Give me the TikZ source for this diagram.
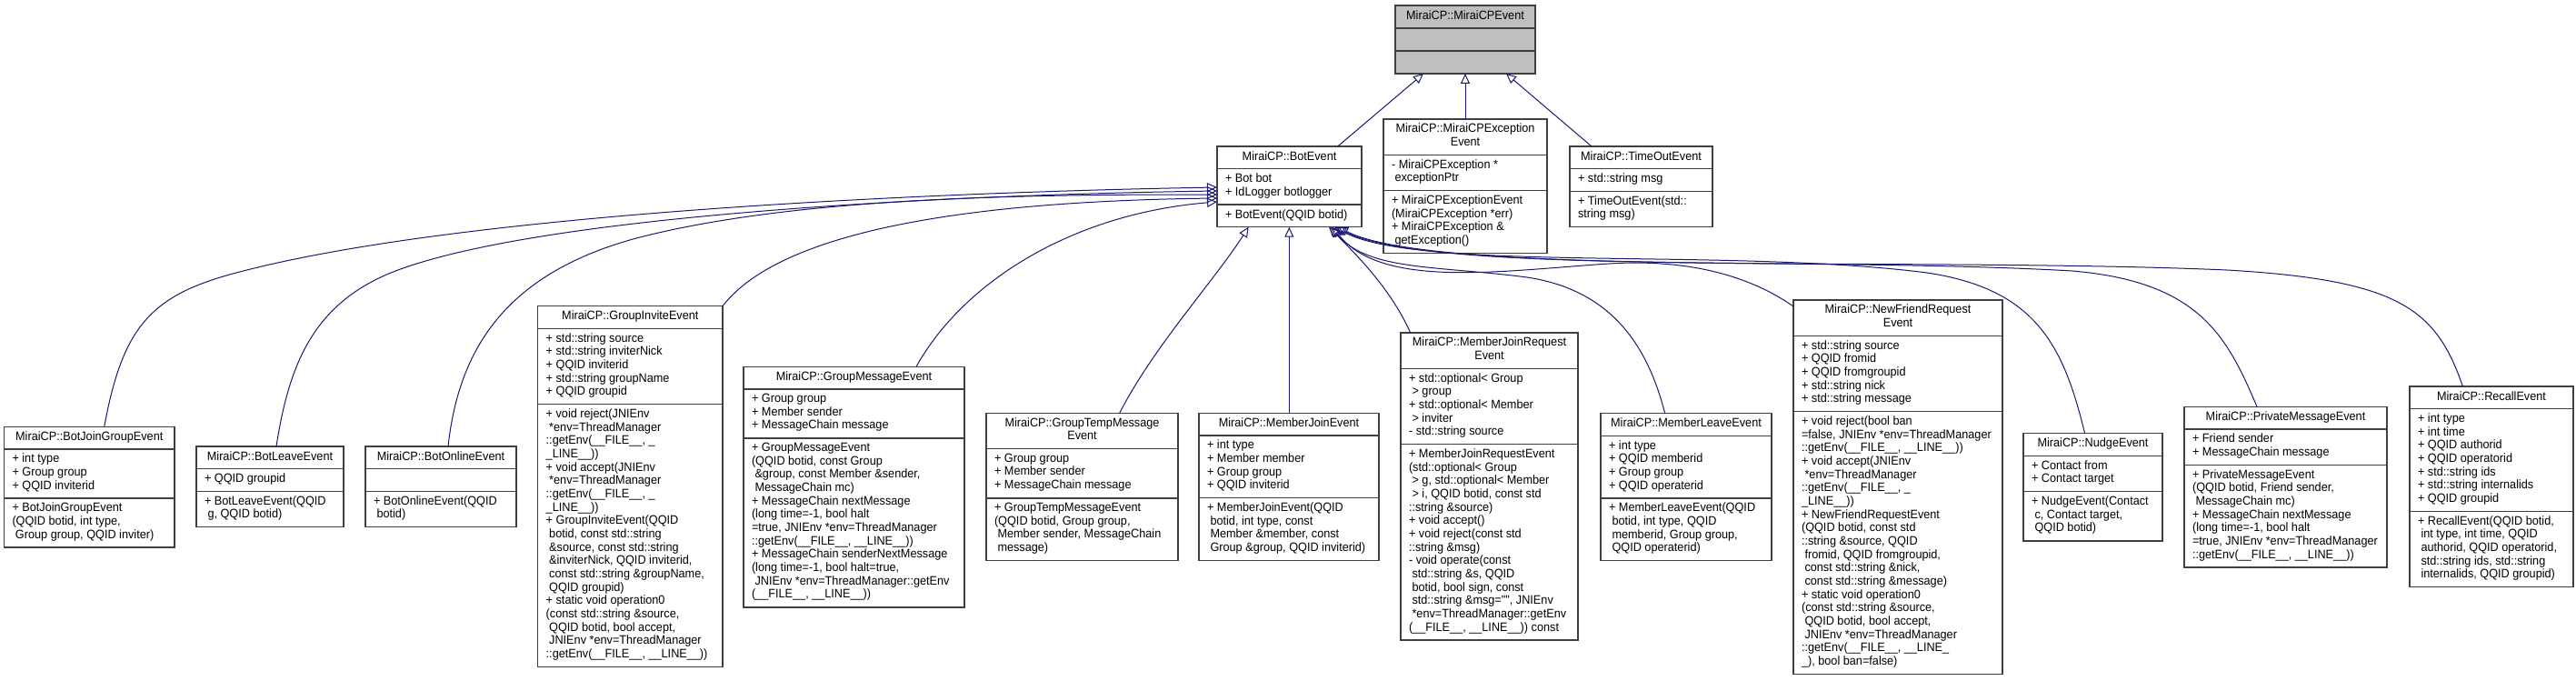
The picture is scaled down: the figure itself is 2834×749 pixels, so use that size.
\documentclass[tikz,border=0pt]{standalone}
\usepackage{fontspec}
\newfontfamily\dxfont{Liberation Sans}[FakeStretch=0.94]
\usetikzlibrary{arrows.meta}
\definecolor{edgec}{HTML}{191970}
\definecolor{bordc}{HTML}{404040}
\definecolor{rootfill}{HTML}{BFBFBF}
\newcommand\LS{\hbox to 3.5pt{}}
\newcommand\klass[8]{%
  \node[boxn, fill=#8, anchor=north west, minimum width={(#3)-(#2)}, minimum height={(#7)-(#4)}] (#1) at (#2,#4) {};
  \draw[sepl] (#2,#5) -- (#3,#5);
  \draw[sepl] (#2,#6) -- (#3,#6);}
\newcommand\ktitle[5]{\node[ttl] (#1-t) at ({(#2+#3)/2},{#4+5}) {#5};}
\newcommand\kattr[4]{\node[txt] (#1-a) at ({#2+9},{#3+5}) {#4};}
\newcommand\kmeth[4]{\node[txt] (#1-m) at ({#2+9},{#3+5}) {#4};}
\tikzset{
  boxn/.style={draw=bordc, line width=1.2pt, inner sep=0pt, outer sep=0pt, rectangle},
  sepl/.style={draw=bordc, line width=1.2pt},
  txt/.style={inner sep=0pt, outer sep=0pt, align=left, anchor=north west,
    font=\dxfont\fontsize{13.5}{14.67}\selectfont,
    execute at begin node=\strut, execute at end node=\strut},
  ttl/.style={txt, align=center, anchor=north},
  inh/.style={draw=edgec, line width=1pt, -{Triangle[open,length=11pt,width=10pt]}}
}
\begin{document}
\begin{tikzpicture}[x=1pt,y=-1pt]
\useasboundingbox (0,0) rectangle (2834,749);
\fill[white] (0,0) rectangle (2834,749);

% ---------- classes ----------
\klass{mce}{1535}{1689}{6}{31}{56}{81}{rootfill}
\ktitle{mce}{1535}{1689}{6}{MiraiCP::MiraiCPEvent}

\klass{bev}{1339}{1498}{161}{185.7}{225}{249.7}{white}
\ktitle{bev}{1339}{1498}{161}{MiraiCP::BotEvent}
\kattr{bev}{1339}{185.7}{+ Bot bot\\+ IdLogger botlogger}
\kmeth{bev}{1339}{225}{+ BotEvent(QQID botid)}

\klass{mcee}{1522}{1702}{131}{170.3}{209.7}{278.4}{white}
\ktitle{mcee}{1522}{1702}{131}{MiraiCP::MiraiCPException\\Event}
\kattr{mcee}{1522}{170.3}{- MiraiCPException *\\\LS exceptionPtr}
\kmeth{mcee}{1522}{209.7}{+ MiraiCPExceptionEvent\\(MiraiCPException *err)\\+ MiraiCPException \&\\\LS getException()}

\klass{toe}{1727}{1884}{161}{185.7}{210.3}{249.7}{white}
\ktitle{toe}{1727}{1884}{161}{MiraiCP::TimeOutEvent}
\kattr{toe}{1727}{185.7}{+ std::string msg}
\kmeth{toe}{1727}{210.3}{+ TimeOutEvent(std::\\string msg)}

\klass{bjg}{4.5}{192}{469.3}{494}{548}{602}{white}
\ktitle{bjg}{4.5}{192}{469.3}{MiraiCP::BotJoinGroupEvent}
\kattr{bjg}{4.5}{494}{+ int type\\+ Group group\\+ QQID inviterid}
\kmeth{bjg}{4.5}{548}{+ BotJoinGroupEvent\\(QQID botid, int type,\\\LS Group group, QQID inviter)}

\klass{ble}{216}{378}{491}{515.7}{540.3}{579.7}{white}
\ktitle{ble}{216}{378}{491}{MiraiCP::BotLeaveEvent}
\kattr{ble}{216}{515.7}{+ QQID groupid}
\kmeth{ble}{216}{540.3}{+ BotLeaveEvent(QQID\\\LS g, QQID botid)}

\klass{boe}{402}{568}{491}{515.7}{540.3}{579.7}{white}
\ktitle{boe}{402}{568}{491}{MiraiCP::BotOnlineEvent}
\kmeth{boe}{402}{540.3}{+ BotOnlineEvent(QQID\\\LS botid)}

\klass{gie}{591.7}{795}{336.7}{361.3}{444.7}{733.4}{white}
\ktitle{gie}{591.7}{795}{336.7}{MiraiCP::GroupInviteEvent}
\kattr{gie}{591.7}{361.3}{+ std::string source\\+ std::string inviterNick\\+ QQID inviterid\\+ std::string groupName\\+ QQID groupid}
\kmeth{gie}{591.7}{444.7}{+ void reject(JNIEnv\\\LS*env=ThreadManager\\::getEnv(\_\_FILE\_\_, \_\\\_LINE\_\_))\\+ void accept(JNIEnv\\\LS*env=ThreadManager\\::getEnv(\_\_FILE\_\_, \_\\\_LINE\_\_))\\+ GroupInviteEvent(QQID\\\LS botid, const std::string\\\LS\&source, const std::string\\\LS\&inviterNick, QQID inviterid,\\\LS const std::string \&groupName,\\\LS QQID groupid)\\+ static void operation0\\(const std::string \&source,\\\LS QQID botid, bool accept,\\\LS JNIEnv *env=ThreadManager\\::getEnv(\_\_FILE\_\_, \_\_LINE\_\_))}

\klass{gme}{818}{1061}{403.3}{428}{482}{668}{white}
\ktitle{gme}{818}{1061}{403.3}{MiraiCP::GroupMessageEvent}
\kattr{gme}{818}{428}{+ Group group\\+ Member sender\\+ MessageChain message}
\kmeth{gme}{818}{482}{+ GroupMessageEvent\\(QQID botid, const Group\\\LS\&group, const Member \&sender,\\\LS MessageChain mc)\\+ MessageChain nextMessage\\(long time=-1, bool halt\\=true, JNIEnv *env=ThreadManager\\::getEnv(\_\_FILE\_\_, \_\_LINE\_\_))\\+ MessageChain senderNextMessage\\(long time=-1, bool halt=true,\\\LS JNIEnv *env=ThreadManager::getEnv\\(\_\_FILE\_\_, \_\_LINE\_\_))}

\klass{gtme}{1085}{1296}{454.3}{493.7}{548}{616.7}{white}
\ktitle{gtme}{1085}{1296}{454.3}{MiraiCP::GroupTempMessage\\Event}
\kattr{gtme}{1085}{493.7}{+ Group group\\+ Member sender\\+ MessageChain message}
\kmeth{gtme}{1085}{548}{+ GroupTempMessageEvent\\(QQID botid, Group group,\\\LS Member sender, MessageChain\\\LS message)}

\klass{mje}{1319}{1517}{454.3}{479}{547.7}{616.3}{white}
\ktitle{mje}{1319}{1517}{454.3}{MiraiCP::MemberJoinEvent}
\kattr{mje}{1319}{479}{+ int type\\+ Member member\\+ Group group\\+ QQID inviterid}
\kmeth{mje}{1319}{547.7}{+ MemberJoinEvent(QQID\\\LS botid, int type, const\\\LS Member \&member, const\\\LS Group \&group, QQID inviterid)}

\klass{mjre}{1541}{1736}{366}{405.3}{488.7}{704}{white}
\ktitle{mjre}{1541}{1736}{366}{MiraiCP::MemberJoinRequest\\Event}
\kattr{mjre}{1541}{405.3}{+ std::optional< Group\\\LS > group\\+ std::optional< Member\\\LS > inviter\\- std::string source}
\kmeth{mjre}{1541}{488.7}{+ MemberJoinRequestEvent\\(std::optional< Group\\\LS > g, std::optional< Member\\\LS > i, QQID botid, const std\\::string \&source)\\+ void accept()\\+ void reject(const std\\::string \&msg)\\- void operate(const\\\LS std::string \&s, QQID\\\LS botid, bool sign, const\\\LS std::string \&msg="", JNIEnv\\\LS*env=ThreadManager::getEnv\\(\_\_FILE\_\_, \_\_LINE\_\_)) const}

\klass{mle}{1761}{1949}{454.7}{479.3}{548}{616.7}{white}
\ktitle{mle}{1761}{1949}{454.7}{MiraiCP::MemberLeaveEvent}
\kattr{mle}{1761}{479.3}{+ int type\\+ QQID memberid\\+ Group group\\+ QQID operaterid}
\kmeth{mle}{1761}{548}{+ MemberLeaveEvent(QQID\\\LS botid, int type, QQID\\\LS memberid, Group group,\\\LS QQID operaterid)}

\klass{nfre}{1973}{2203}{330}{369.3}{452.7}{741.4}{white}
\ktitle{nfre}{1973}{2203}{330}{MiraiCP::NewFriendRequest\\Event}
\kattr{nfre}{1973}{369.3}{+ std::string source\\+ QQID fromid\\+ QQID fromgroupid\\+ std::string nick\\+ std::string message}
\kmeth{nfre}{1973}{452.7}{+ void reject(bool ban\\=false, JNIEnv *env=ThreadManager\\::getEnv(\_\_FILE\_\_, \_\_LINE\_\_))\\+ void accept(JNIEnv\\\LS*env=ThreadManager\\::getEnv(\_\_FILE\_\_, \_\\\_LINE\_\_))\\+ NewFriendRequestEvent\\(QQID botid, const std\\::string \&source, QQID\\\LS fromid, QQID fromgroupid,\\\LS const std::string \&nick,\\\LS const std::string \&message)\\+ static void operation0\\(const std::string \&source,\\\LS QQID botid, bool accept,\\\LS JNIEnv *env=ThreadManager\\::getEnv(\_\_FILE\_\_, \_\_LINE\_\\\_), bool ban=false)}

\klass{nue}{2226}{2379}{476.7}{501.3}{540.7}{595}{white}
\ktitle{nue}{2226}{2379}{476.7}{MiraiCP::NudgeEvent}
\kattr{nue}{2226}{501.3}{+ Contact from\\+ Contact target}
\kmeth{nue}{2226}{540.7}{+ NudgeEvent(Contact\\\LS c, Contact target,\\\LS QQID botid)}

\klass{pme}{2403}{2626}{447.3}{472}{511.3}{624}{white}
\ktitle{pme}{2403}{2626}{447.3}{MiraiCP::PrivateMessageEvent}
\kattr{pme}{2403}{472}{+ Friend sender\\+ MessageChain message}
\kmeth{pme}{2403}{511.3}{+ PrivateMessageEvent\\(QQID botid, Friend sender,\\\LS MessageChain mc)\\+ MessageChain nextMessage\\(long time=-1, bool halt\\=true, JNIEnv *env=ThreadManager\\::getEnv(\_\_FILE\_\_, \_\_LINE\_\_))}

\klass{rce}{2651}{2831}{425}{449.7}{562.3}{645.7}{white}
\ktitle{rce}{2651}{2831}{425}{MiraiCP::RecallEvent}
\kattr{rce}{2651}{449.7}{+ int type\\+ int time\\+ QQID authorid\\+ QQID operatorid\\+ std::string ids\\+ std::string internalids\\+ QQID groupid}
\kmeth{rce}{2651}{562.3}{+ RecallEvent(QQID botid,\\\LS int type, int time, QQID\\\LS authorid, QQID operatorid,\\\LS std::string ids, std::string\\\LS internalids, QQID groupid)}

% ---------- inheritance connectors ----------
\draw[inh] ([xshift=132.7pt]bev.north west) -- ([xshift=31pt]mce.south west);
\draw[inh] (mcee.north) -- (mce.south);
\draw[inh] ([xshift=24pt]toe.north west) -- ([xshift=122pt]mce.south west);

\draw[inh] ([xshift=110.2pt]bjg.north west) .. controls (135,360) and (165,325) .. (260,300) .. controls (500,236) and (1000,212) .. ([yshift=-45pt]bev.north west);
\draw[inh] ([xshift=88pt]ble.north west) .. controls (318,400) and (345,335) .. (430,300) .. controls (580,240) and (1000,215) .. ([yshift=-49pt]bev.north west);
\draw[inh] ([xshift=91pt]boe.north west) .. controls (505,380) and (560,300) .. (700,262) .. controls (880,215) and (1150,214) .. ([yshift=-53pt]bev.north west);
\draw[inh] (gie.north east) .. controls (850,265) and (1020,222) .. ([yshift=-57pt]bev.north west);
\draw[inh] ([xshift=190pt]gme.north west) .. controls (1060,310) and (1180,235) .. ([yshift=-61pt]bev.north west);

\draw[inh] ([xshift=146.7pt]gtme.north west) .. controls (1270,380) and (1335,310) .. ([xshift=34.6pt]bev.south west);
\draw[inh] ([xshift=99.3pt]mje.north west) -- ([xshift=79.3pt]bev.south west);
\draw[inh] ([xshift=10.7pt]mjre.north west) .. controls (1530,318) and (1495,283) .. ([xshift=123pt]bev.south west);
\draw[inh] ([xshift=70.7pt]mle.north west) .. controls (1815,390) and (1780,320) .. (1680,305) .. controls (1580,292) and (1505,298) .. ([xshift=125pt]bev.south west);
\draw[inh] ([yshift=-7pt]nfre.north west) .. controls (1920,300) and (1850,285) .. (1770,290) .. controls (1650,298) and (1520,318) .. ([xshift=127pt]bev.south west);
\draw[inh] ([xshift=67.6pt]nue.north west) .. controls (2270,380) and (2240,318) .. (2120,300) .. controls (1900,272) and (1560,300) .. ([xshift=129pt]bev.south west);
\draw[inh] ([xshift=80pt]pme.north west) .. controls (2450,370) and (2420,310) .. (2280,298) .. controls (2000,282) and (1570,302) .. ([xshift=131pt]bev.south west);
\draw[inh] ([xshift=58.4pt]rce.north west) .. controls (2680,340) and (2640,308) .. (2450,297) .. controls (2100,282) and (1580,305) .. ([xshift=133pt]bev.south west);
\end{tikzpicture}
\end{document}
